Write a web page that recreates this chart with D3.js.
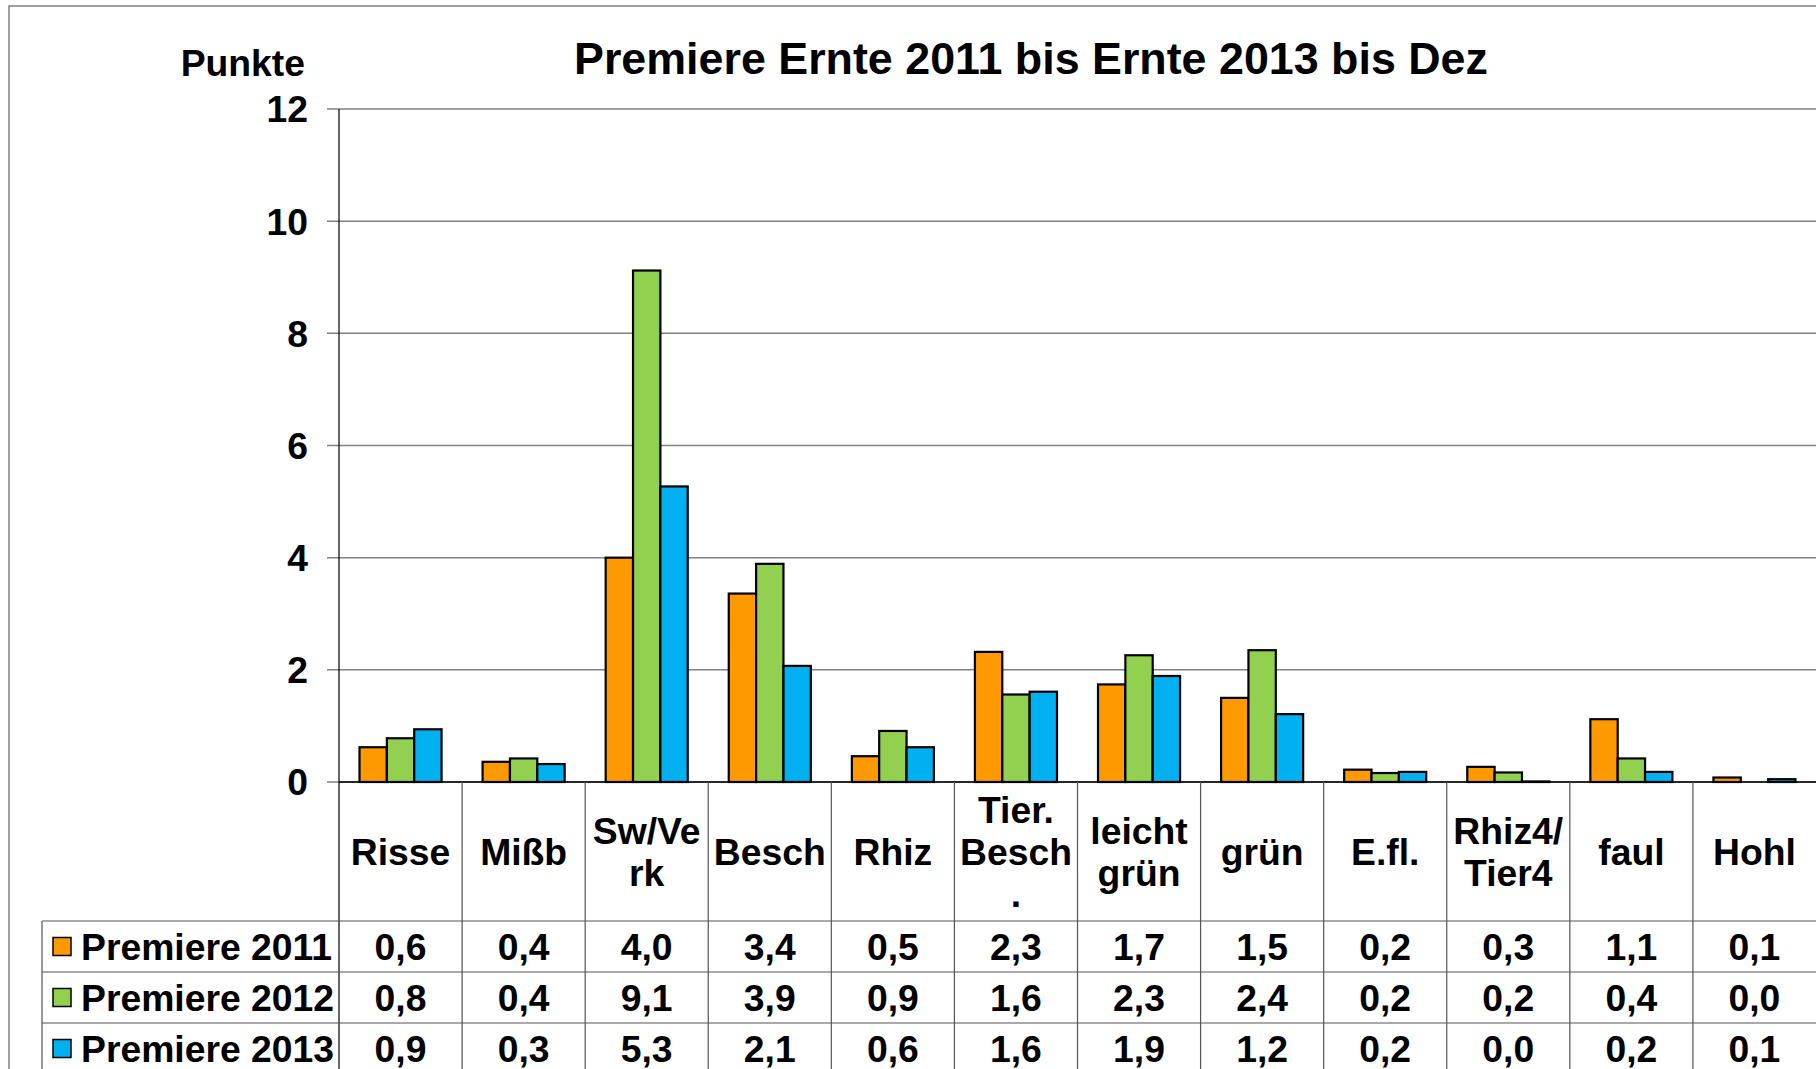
<!DOCTYPE html>
<html>
<head>
<meta charset="utf-8">
<script src="https://cdn.jsdelivr.net/npm/d3@7"></script>
<style>
  body { margin: 0; background: #fff; }
  text { font-family: "Liberation Sans", Arial, sans-serif; font-weight: bold; fill: #000; }
</style>
</head>
<body>
<div id="chart"></div>
<script>
// categories (multi-line labels split by "\n")
const categories = ["Risse", "Mißb", "Sw/Ve\nrk", "Besch", "Rhiz", "Tier.\nBesch\n.",
                    "leicht\ngrün", "grün", "E.fl.", "Rhiz4/\nTier4", "faul", "Hohl"];
const seriesNames = ["Premiere 2011", "Premiere 2012", "Premiere 2013"];
const seriesColours = ["#FF9900", "#92D050", "#00B0F0"];

// bar heights
const values2011 = [0.62, 0.36, 4.00, 3.36, 0.46, 2.32, 1.74, 1.50, 0.22, 0.27, 1.12, 0.08];
const values2012 = [0.78, 0.42, 9.12, 3.89, 0.91, 1.56, 2.26, 2.35, 0.16, 0.17, 0.42, 0.00];
const values2013 = [0.94, 0.32, 5.27, 2.07, 0.62, 1.61, 1.89, 1.21, 0.18, 0.01, 0.18, 0.05];

// data table labels
const table2011 = ["0,6", "0,4", "4,0", "3,4", "0,5", "2,3", "1,7", "1,5", "0,2", "0,3", "1,1", "0,1"];
const table2012 = ["0,8", "0,4", "9,1", "3,9", "0,9", "1,6", "2,3", "2,4", "0,2", "0,2", "0,4", "0,0"];
const table2013 = ["0,9", "0,3", "5,3", "2,1", "0,6", "1,6", "1,9", "1,2", "0,2", "0,0", "0,2", "0,1"];

const yTicks = [0, 2, 4, 6, 8, 10, 12];

const title = "Premiere Ernte 2011 bis Ernte 2013 bis Dez";
const yLabel = "Punkte";

const seriesValues = [values2011, values2012, values2013];
const tableValues = [table2011, table2012, table2013];

const width = 1816, height = 1069;
const plot = { left: 339, right: 1816, top: 109, bottom: 782 };
const headerBottom = 921;
const rowHeight = 51;
const legendLeft = 42;
const fontSize = 37.3;

const svg = d3.select("#chart").append("svg")
  .attr("width", width).attr("height", height)
  .attr("viewBox", `0 0 ${width} ${height}`);

// outer chart border (top & left visible)
svg.append("path")
  .attr("d", `M9,${height} L9,6 L${width},6`)
  .attr("fill", "none").attr("stroke", "#808080").attr("stroke-width", 1.5);

const x = d3.scaleBand().domain(d3.range(categories.length))
  .range([plot.left, plot.right]).paddingInner(0).paddingOuter(0);
const bw = x.bandwidth();
const barW = bw / 4.5;
const x1 = d3.scaleBand().domain(d3.range(seriesNames.length))
  .range([(bw - 3 * barW) / 2, (bw + 3 * barW) / 2]).padding(0);

const y = d3.scaleLinear().domain([0, 12]).range([plot.bottom, plot.top]);

// gridlines + tick marks
svg.append("g").selectAll("line").data(yTicks).join("line")
  .attr("x1", plot.left - 12).attr("x2", plot.right)
  .attr("y1", d => y(d)).attr("y2", d => y(d))
  .attr("stroke", "#808080").attr("stroke-width", 1.5);

// y tick labels
svg.append("g").selectAll("text").data(yTicks).join("text")
  .attr("x", 308).attr("y", d => y(d))
  .attr("dy", "0.36em")
  .attr("text-anchor", "end")
  .style("font-size", fontSize + "px")
  .text(d => d);

svg.append("text")
  .attr("x", 305).attr("y", 76)
  .attr("text-anchor", "end")
  .style("font-size", fontSize + "px")
  .text(yLabel);

svg.append("text")
  .attr("x", 1031).attr("y", 74)
  .attr("text-anchor", "middle")
  .style("font-size", "44.8px")
  .text(title);

// bars
const groups = svg.append("g").selectAll("g").data(categories).join("g")
  .attr("transform", (d, i) => `translate(${x(i)},0)`);

groups.selectAll("rect")
  .data((d, i) => seriesValues.map((vals, s) => ({ s: s, v: vals[i] })))
  .join("rect")
  .attr("x", d => x1(d.s))
  .attr("width", x1.bandwidth())
  .attr("y", d => y(d.v))
  .attr("height", d => y(0) - y(d.v))
  .attr("fill", d => seriesColours[d.s])
  .attr("stroke", "#000")
  .attr("stroke-width", d => d.v > 0 ? 2.2 : 0);

// baseline
svg.append("line")
  .attr("x1", plot.left).attr("x2", plot.right)
  .attr("y1", y(0)).attr("y2", y(0))
  .attr("stroke", "#000").attr("stroke-width", 1.5);

// left axis
svg.append("line")
  .attr("x1", plot.left).attr("x2", plot.left)
  .attr("y1", plot.top).attr("y2", height)
  .attr("stroke", "#000").attr("stroke-width", 1.2);

// table: column separators
svg.append("g").selectAll("line").data(d3.range(1, categories.length)).join("line")
  .attr("x1", i => x(i)).attr("x2", i => x(i))
  .attr("y1", plot.bottom).attr("y2", height)
  .attr("stroke", "#555").attr("stroke-width", 1.2);

// table: row lines
const rowTops = d3.range(seriesNames.length).map(r => headerBottom + r * rowHeight);
svg.append("g").selectAll("line").data(rowTops).join("line")
  .attr("x1", legendLeft).attr("x2", plot.right)
  .attr("y1", d => d).attr("y2", d => d)
  .attr("stroke", "#555").attr("stroke-width", 1.2);
svg.append("line")
  .attr("x1", legendLeft).attr("x2", legendLeft)
  .attr("y1", headerBottom).attr("y2", height)
  .attr("stroke", "#555").attr("stroke-width", 1.2);

// category labels
const lineGap = 42;
const headerMid = (plot.bottom + headerBottom) / 2;
svg.append("g").selectAll("text").data(categories).join("text")
  .attr("text-anchor", "middle")
  .style("font-size", fontSize + "px")
  .each(function(d, i) {
    const lines = d.split("\n");
    const t = d3.select(this);
    lines.forEach((ln, k) => {
      t.append("tspan")
        .attr("x", x(i) + bw / 2)
        .attr("y", headerMid + (k - (lines.length - 1) / 2) * lineGap)
        .attr("dy", "0.36em")
        .text(ln);
    });
  });

// legend rows + values
seriesNames.forEach((name, r) => {
  const mid = rowTops[r] + rowHeight / 2;
  svg.append("rect")
    .attr("x", 53).attr("y", mid - 9)
    .attr("width", 18).attr("height", 18)
    .attr("fill", seriesColours[r]).attr("stroke", "#000").attr("stroke-width", 1.5);
  svg.append("text")
    .attr("x", 81).attr("y", mid).attr("dy", "0.36em")
    .style("font-size", fontSize + "px")
    .text(name);
  svg.append("g").selectAll("text").data(tableValues[r]).join("text")
    .attr("x", (d, i) => x(i) + bw / 2)
    .attr("y", mid).attr("dy", "0.36em")
    .attr("text-anchor", "middle")
    .style("font-size", fontSize + "px")
    .text(d => d);
});
</script>
</body>
</html>
